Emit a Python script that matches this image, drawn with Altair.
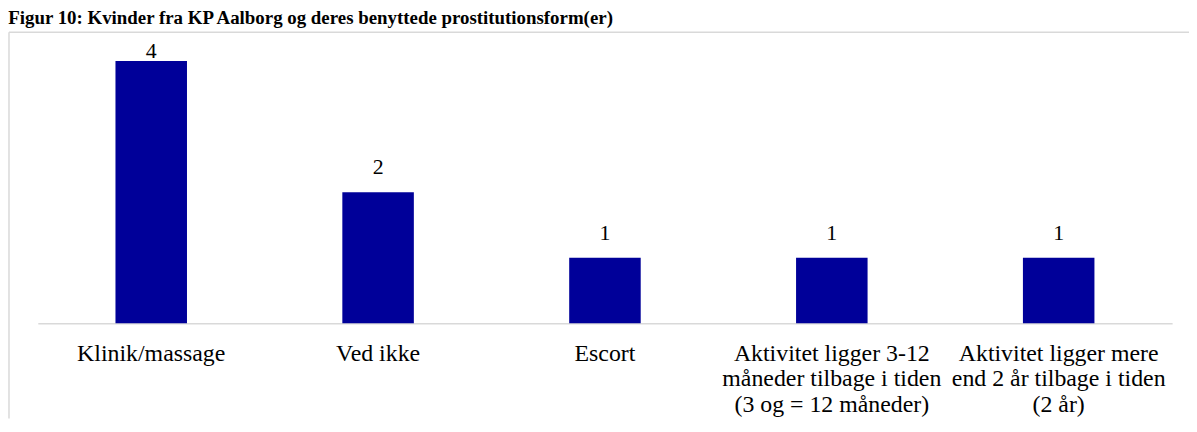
import altair as alt
import pandas as pd

title_text = "Figur 10: Kvinder fra KP Aalborg og deres benyttede prostitutionsform(er)"
categories = [
    "Klinik/massage",
    "Ved ikke",
    "Escort",
    "Aktivitet ligger 3-12\nmåneder tilbage i tiden\n(3 og = 12 måneder)",
    "Aktivitet ligger mere\nend 2 år tilbage i tiden\n(2 år)",
]
values = [4, 2, 1, 1, 1]

df = pd.DataFrame({"kategori": categories, "antal": values})

FONT = "Liberation Serif"
BAR = "#000099"
GRID = "#d9d9d9"

W, H = 1142, 293
PAD = {"left": 30, "right": 17, "top": 23, "bottom": 96}
PX_PER_UNIT = 66

x = alt.X(
    "kategori:N",
    sort=categories,
    scale=alt.Scale(paddingInner=0, paddingOuter=0),
    axis=alt.Axis(
        title=None,
        labelAngle=0,
        ticks=False,
        domainColor=GRID,
        domainWidth=1.5,
        labelFont=FONT,
        labelFontSize=24,
        labelColor="black",
        labelPadding=18,
        labelLineHeight=26,
        labelLimit=400,
        labelOverlap=False,
        labelExpr="split(datum.label, '\\n')",
    ),
)
y_scale = alt.Scale(domain=[0, H / PX_PER_UNIT])

base = alt.Chart(df)

bars = base.mark_bar(size=72, color=BAR).encode(
    x=x,
    y=alt.Y("antal:Q", scale=y_scale, axis=None),
)

labels = base.transform_calculate(
    ly="min(datum.antal + 0.273, 4.045)"
).mark_text(font=FONT, fontSize=22, color="black", baseline="alphabetic").encode(
    x=alt.X("kategori:N", sort=categories),
    y=alt.Y("ly:Q", scale=y_scale, axis=None),
    text=alt.Text("antal:Q"),
)

frame = alt.Data(values=[{"a": 1}])
left_border = alt.Chart(frame).mark_rule(color=GRID, strokeWidth=1.5).encode(
    x=alt.value(-29), y=alt.value(0), y2=alt.value(H + PAD["bottom"])
)
top_border = alt.Chart(frame).mark_rule(color=GRID, strokeWidth=1.5).encode(
    x=alt.value(-29), x2=alt.value(W + PAD["right"]), y=alt.value(0)
)

chart = (
    alt.layer(bars, labels, left_border, top_border)
    .properties(
        width=W,
        height=H,
        padding=PAD,
        autosize=alt.AutoSizeParams(type="none"),
        title=alt.TitleParams(
            title_text,
            anchor="start",
            font=FONT,
            fontSize=19,
            fontWeight="bold",
            color="black",
            offset=4,
        ),
    )
    .configure_view(stroke=None)
)

chart.save("out.html", embed_options={"renderer": "svg", "actions": False})
